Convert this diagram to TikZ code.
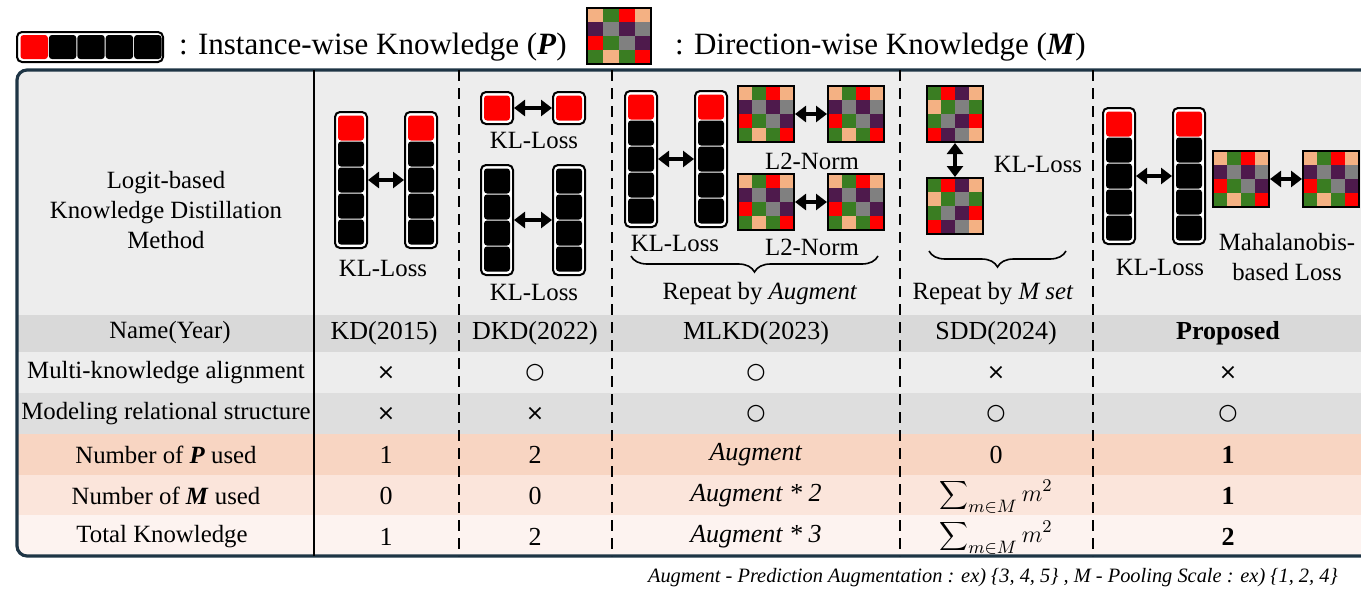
\documentclass[tikz,border=0pt]{standalone}
\usepackage{fontspec}
\setmainfont{Liberation Serif}
\newfontfamily\symfont{DejaVu Sans}
\usetikzlibrary{arrows.meta,decorations.pathreplacing}

\definecolor{cpeach}{HTML}{F4B183}
\definecolor{cgreen}{HTML}{3A7D22}
\definecolor{cred}{HTML}{FF0000}
\definecolor{cpurple}{HTML}{4E1A4C}
\definecolor{cgray}{HTML}{808080}
\definecolor{cframe}{HTML}{1E3545}
\definecolor{rowtop}{HTML}{EDEDED}
\definecolor{rowname}{HTML}{D9D9D9}
\definecolor{rowmulti}{HTML}{EDEDED}
\definecolor{rowmodel}{HTML}{DEDEDE}
\definecolor{rowp}{HTML}{F8D5C2}
\definecolor{rowm}{HTML}{FBE5DB}
\definecolor{rowtotal}{HTML}{FDF3F0}

\def\stdmat{cpeach,cgreen,cred,cpeach,cpurple,cgray,cpurple,cgray,cred,cgreen,cgray,cpurple,cgreen,cpeach,cgreen,cred}
\def\sddmat{cgreen,cred,cpurple,cpeach,cpeach,cgreen,cgray,cgreen,cgreen,cgray,cpurple,cred,cred,cpurple,cgray,cpeach}

\begin{document}
\begin{tikzpicture}[x=0.5pt,y=-0.5pt,
every node/.style={font=\fontsize{12.4}{15}\selectfont},
pbox/.style={draw=black,line width=1pt,fill=white,rounded corners=2.5pt,minimum width=16pt,inner sep=0pt},
mbox/.style={draw=black,line width=1pt,minimum height=28pt,inner sep=0pt},
dArrow/.style={{Triangle[length=5.5pt,width=8pt]}-{Triangle[length=5.5pt,width=8pt]},line width=1.8pt},
divider/.style={line width=1.3pt,dash pattern=on 5.5pt off 3.5pt},
brc/.style={decorate,decoration={brace,mirror,amplitude=8pt,aspect=0.5},line width=0.8pt},
headnote/.style={font=\fontsize{13}{15}\selectfont},
symnote/.style={font=\symfont\fontsize{11}{13}\selectfont},
pics/pbar/.style 2 args={code={
  \node[pbox,minimum height={(#1*13+3)*1pt}] (-box) {};
  \pgfmathsetmacro\ytop{-(#1*26+6)/2+3}
  \foreach \i in {1,...,#1}{
    \ifnum\i>#2 \def\cc{black}\else\def\cc{cred}\fi
    \fill[\cc,rounded corners=1.5pt] (-13,{\ytop+(\i-1)*26+0.5}) rectangle ++(26,25);
  }}},
pics/dmat/.style 2 args={code={
  \foreach \c [count=\k from 0] in #1{
    \pgfmathtruncatemacro\rr{div(\k,4)}
    \pgfmathtruncatemacro\qq{mod(\k,4)}
    \fill[\c] ({-2*#2+\qq*#2},{-28+\rr*14}) rectangle ++(#2,14);
  }
  \node[mbox,minimum width={2*#2*1pt}] (-box) {};
  }}]

\useasboundingbox (0,0) rectangle (1361,589);
\clip (0,0) rectangle (1361,589);

% legend
\node (lgbar) at (90,47) [pbox,minimum width=73pt,minimum height=15pt] {};
\foreach \i in {0,...,4}{
  \ifnum\i=0 \def\cc{cred}\else\def\cc{black}\fi
  \fill[\cc,rounded corners=1.5pt] ({20+\i*28.4+0.5},35) rectangle ++(27.4,24);
}
\node (lgP) at (172,47) [anchor=west,font=\fontsize{15.5}{18}\selectfont] {: Instance-wise Knowledge (\textbf{\textit{P}})};
\pic (lgM) at (619,36) {dmat={\stdmat}{16}};
\node (lgMtxt) at (668,47) [anchor=west,font=\fontsize{15.5}{18}\selectfont] {: Direction-wise Knowledge (\textbf{\textit{M}})};

% table body
\begin{scope}
\clip[rounded corners=5pt] (17,70) rectangle (1390,556);
\fill[rowtop] (17,70) rectangle (1390,315);
\fill[rowname] (17,315) rectangle (1390,352);
\fill[rowmulti] (17,352) rectangle (1390,393);
\fill[rowmodel] (17,393) rectangle (1390,434);
\fill[rowp] (17,434) rectangle (1390,475);
\fill[rowm] (17,475) rectangle (1390,515);
\fill[rowtotal] (17,515) rectangle (1390,556);
\end{scope}
\draw[cframe,line width=1.6pt,rounded corners=5pt] (17,70) rectangle (1390,556);

\draw[line width=1pt] (314,70) -- (314,556);
\draw[divider] (459,70) -- (459,556);
\draw[divider] (612,70) -- (612,556);
\draw[divider] (900,70) -- (900,556);
\draw[divider] (1093,70) -- (1093,556);

\node (method) at (166,210) [align=center] {Logit-based\\Knowledge Distillation\\Method};

% KD
\pic (kdL) at (351,180) {pbar={5}{1}};
\pic (kdR) at (421,180) {pbar={5}{1}};
\draw[dArrow] (kdL-box) -- (kdR-box);
\node (kdLoss) at (383,268) {KL-Loss};

% DKD
\pic (dkA) at (497,108) {pbar={1}{1}};
\pic (dkB) at (569,108) {pbar={1}{1}};
\draw[dArrow] (dkA-box) -- (dkB-box);
\node (dkLossA) at (534,140) {KL-Loss};
\pic (dkC) at (497,220) {pbar={4}{0}};
\pic (dkD) at (569,220) {pbar={4}{0}};
\draw[dArrow] (dkC-box) -- (dkD-box);
\node (dkLossB) at (534,292) {KL-Loss};

% MLKD
\pic (mlL) at (641,159) {pbar={5}{1}};
\pic (mlR) at (711,159) {pbar={5}{1}};
\draw[dArrow] (mlL-box) -- (mlR-box);
\node (mlLoss) at (675,243) {KL-Loss};
\pic (mlA) at (766,114) {dmat={\stdmat}{14}};
\pic (mlB) at (856,114) {dmat={\stdmat}{14}};
\draw[dArrow] (mlA-box) -- (mlB-box);
\node (mlNormA) at (812,161) {L2-Norm};
\pic (mlC) at (766,202) {dmat={\stdmat}{14}};
\pic (mlD) at (856,202) {dmat={\stdmat}{14}};
\draw[dArrow] (mlC-box) -- (mlD-box);
\node (mlNormB) at (812,247) {L2-Norm};
\coordinate (mlBrA) at (631,256);
\coordinate (mlBrB) at (878,256);
\draw[brc] (mlBrA) -- (mlBrB);
\node (mlRep) at (760,294) {Repeat by \textit{Augment}};

% SDD
\pic (sdA) at (955,114) {dmat={\sddmat}{14}};
\pic (sdB) at (955,206) {dmat={\sddmat}{14}};
\draw[dArrow] (sdA-box) -- (sdB-box);
\node (sdLoss) at (1038,165) {KL-Loss};
\coordinate (sdBrA) at (929,251);
\coordinate (sdBrB) at (1066,251);
\draw[brc] (sdBrA) -- (sdBrB);
\node (sdRep) at (993,294) {Repeat by \textit{M set}};

% Proposed
\pic (prL) at (1119,176) {pbar={5}{1}};
\pic (prR) at (1189,176) {pbar={5}{1}};
\draw[dArrow] (prL-box) -- (prR-box);
\node (prLoss) at (1160,267) {KL-Loss};
\pic (prA) at (1241,179) {dmat={\stdmat}{14}};
\pic (prB) at (1331,179) {dmat={\stdmat}{14}};
\draw[dArrow] (prA-box) -- (prB-box);
\node (prMaha) at (1287,257) [align=center] {Mahalanobis-\\based Loss};

% rows
\node (nmHead) at (170,333) {Name(Year)};
\node (nmKD) at (384,333) [headnote] {KD(2015)};
\node (nmDKD) at (535,333) [headnote] {DKD(2022)};
\node (nmML) at (756,333) [headnote] {MLKD(2023)};
\node (nmSD) at (996,333) [headnote] {SDD(2024)};
\node (nmPr) at (1228,333) [headnote] {\textbf{Proposed}};

\node (maHead) at (166,373) {Multi-knowledge alignment};
\node (maKD) at (386,373) [symnote] {×};
\node (maDKD) at (535,373) [symnote] {○};
\node (maML) at (756,373) [symnote] {○};
\node (maSD) at (996,373) [symnote] {×};
\node (maPr) at (1228,373) [symnote] {×};

\node (mrHead) at (166,414) {Modeling relational structure};
\node (mrKD) at (386,414) [symnote] {×};
\node (mrDKD) at (535,414) [symnote] {×};
\node (mrML) at (756,414) [symnote] {○};
\node (mrSD) at (996,414) [symnote] {○};
\node (mrPr) at (1228,414) [symnote] {○};

\node (npHead) at (166,455) {Number of \textbf{\textit{P}} used};
\node (npKD) at (386,455) [headnote] {1};
\node (npDKD) at (535,455) [headnote] {2};
\node (npML) at (756,455) [headnote] {\textit{Augment}};
\node (npSD) at (996,455) [headnote] {0};
\node (npPr) at (1228,455) [headnote] {\textbf{1}};

\node (nmmHead) at (166,496) {Number of \textbf{\textit{M}} used};
\node (nmmKD) at (386,496) [headnote] {0};
\node (nmmDKD) at (535,496) [headnote] {0};
\node (nmmML) at (756,496) [headnote] {\textit{Augment * 2}};
\node (nmmSD) at (996,496) [headnote] {$\displaystyle\sum\nolimits_{m\in M} m^2$};
\node (nmmPr) at (1228,496) [headnote] {\textbf{1}};

\node (tkHead) at (162,537) {Total Knowledge};
\node (tkKD) at (386,537) [headnote] {1};
\node (tkDKD) at (535,537) [headnote] {2};
\node (tkML) at (756,537) [headnote] {\textit{Augment * 3}};
\node (tkSD) at (996,537) [headnote] {$\displaystyle\sum\nolimits_{m\in M} m^2$};
\node (tkPr) at (1228,537) [headnote] {\textbf{2}};

% footnote
\node (foot) at (641,578) [anchor=west,font=\itshape\fontsize{10.2}{12}\selectfont] {Augment - Prediction Augmentation : ex) \{3, 4, 5\} , M - Pooling Scale : ex) \{1, 2, 4\}};

\end{tikzpicture}
\end{document}
